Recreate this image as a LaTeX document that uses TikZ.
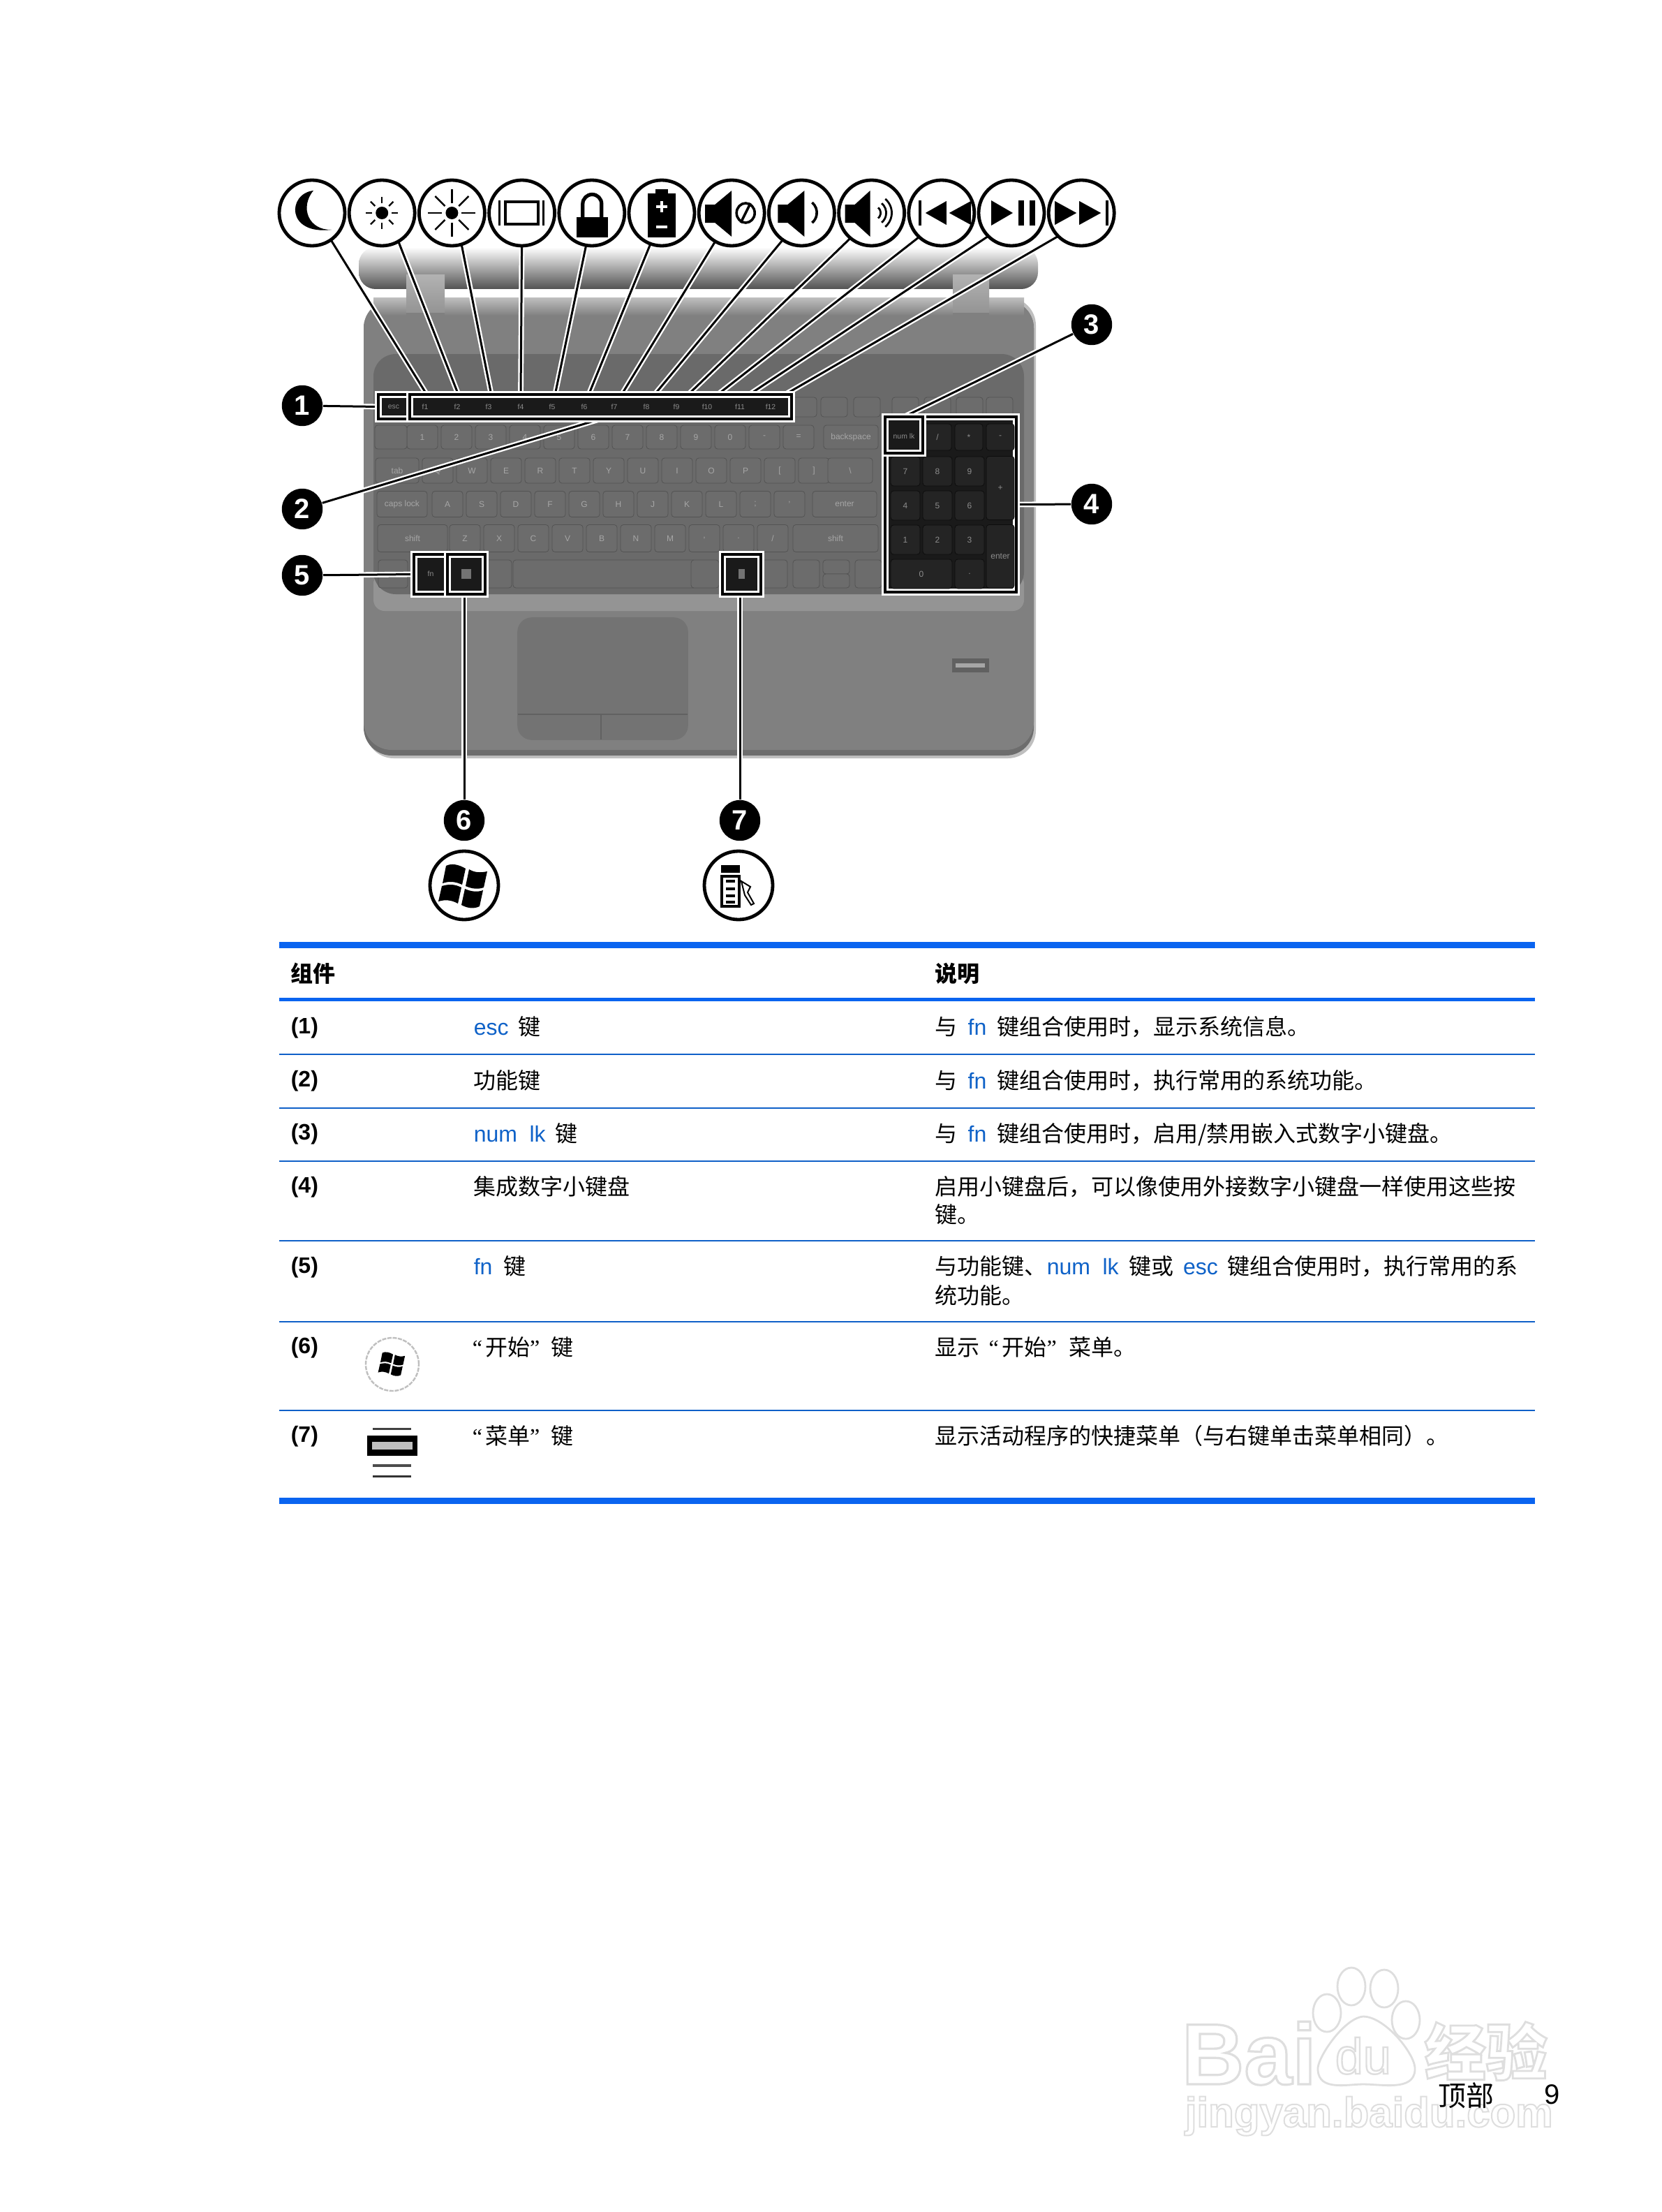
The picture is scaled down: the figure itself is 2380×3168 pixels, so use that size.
\documentclass[tikz,border=0pt]{standalone}
\usepackage{fontspec}
\usepackage{xcolor}
\usetikzlibrary{positioning}
\setmainfont{Liberation Sans}
\newfontfamily\cjk{Noto Sans CJK SC}
\newfontfamily\quotefont{Liberation Serif}
\definecolor{rulethick}{HTML}{0A64F0}
\definecolor{rulethin}{HTML}{0F60C8}
\definecolor{linkblue}{HTML}{0F62C8}
\definecolor{wellgray}{HTML}{6A6A6A}
\definecolor{keygray}{HTML}{6C6C6C}
\definecolor{bodygray}{HTML}{808080}
\definecolor{padgray}{HTML}{737373}
\definecolor{litkey}{HTML}{1A1A1A}
\newcommand{\kw}[1]{\textcolor{linkblue}{#1}}
\newcommand{\openq}{{\quotefont “}}
\newcommand{\closeq}{{\quotefont ”}}
\newcommand{\outlined}[2]{\special{pdf:code 2 Tr #1 w 0.87 0.87 0.87 RG}#2\special{pdf:code 0 Tr}}
\pgfdeclarelayer{boxes}
\pgfsetlayers{main,boxes}
\tikzset{
    sized/.style 2 args={minimum width=#1*0.25pt, minimum height=#2*0.25pt},
    iconring/.style={circle, draw=black, fill=white, line width=1.2pt, minimum size=23.5pt, inner sep=0pt, outer sep=0pt},
    callout/.style={circle, fill=black, text=white, minimum size=14.6pt, inner sep=0pt, font=\bfseries\fontsize{10}{10}\selectfont},
    leader/.style={draw=white, double=black, double distance=0.75pt, line width=0.6pt},
    hlbox/.style={rectangle, draw=white, double=black, double distance=0.85pt, line width=0.75pt, fill=litkey, inner sep=0pt, outer sep=0pt},
    keycap/.style={rectangle, rounded corners=1pt, draw=black!22!wellgray, fill=keygray, text=black!35!white, inner sep=0pt, line width=0.2pt, font=\fontsize{3}{3}\selectfont},
    padkey/.style={keycap, draw=black!95!white, fill=black!86!white, text=black!45!white},
    fnlabel/.style={text=black!45!white, inner sep=0pt, font=\fontsize{2.6}{3}\selectfont},
    cell/.style={anchor=base west, inner sep=0pt, font=\cjk\fontsize{8}{8}\selectfont},
    numcell/.style={anchor=base west, inner sep=0pt, font=\bfseries\fontsize{8}{8}\selectfont},
    headcell/.style={anchor=base west, inner sep=0pt, font=\cjk\bfseries\fontsize{8}{8}\selectfont},
    pawline/.style={draw=black!13!white, fill=white, line width=0.7pt},
    winlogo/.pic={
        \fill[black] (-26,-30) .. controls (-18,-34) and (-8,-32) .. (2,-26) -- (-3,-3) .. controls (-14,-8) and (-22,-8) .. (-31,-5) -- cycle;
        \fill[black] (7,-25) .. controls (15,-20) and (24,-20) .. (33,-22) -- (28,1) .. controls (20,4) and (11,3) .. (2,-1) -- cycle;
        \fill[black] (-32,-1) .. controls (-22,-4) and (-14,-4) .. (-4,1) -- (-9,24) .. controls (-18,19) and (-27,18) .. (-37,21) -- cycle;
        \fill[black] (1,3) .. controls (10,7) and (19,8) .. (27,5) -- (22,28) .. controls (14,32) and (5,31) .. (-4,26) -- cycle;
    }
}
\begin{document}
\begin{tikzpicture}[x=0.25pt, y=-0.25pt]
    \useasboundingbox (0,0) rectangle (2380,3168);
    \fill[white] (0,0) rectangle (2380,3168);

    \draw[pawline] (1901,2883) ellipse (20 and 27);
    \draw[pawline] (1936,2845) ellipse (20 and 27);
    \draw[pawline] (1983,2848) ellipse (20 and 27);
    \draw[pawline] (2014,2893) ellipse (20 and 27);
    \draw[pawline] (1953,2888) .. controls (1925,2890) and (1885,2950) .. (1888,2965) .. controls (1890,2995) and (1930,2985) .. (1953,2985) .. controls (1980,2985) and (2025,2995) .. (2027,2965) .. controls (2030,2945) and (1985,2888) .. (1953,2888) -- cycle;
    \node[anchor=base west, inner sep=0pt, text=white, font=\bfseries\fontsize{31}{31}\selectfont] (markbai) at (1692,2985) {\outlined{0.8}{Bai}};
    \node[anchor=base west, inner sep=0pt, text=white, font=\fontsize{18}{18}\selectfont] (markdu) at (1912,2970) {\outlined{0.6}{du}};
    \node[anchor=base west, inner sep=0pt, text=white, font=\cjk\bfseries\fontsize{22}{22}\selectfont] (markjy) at (2040,2972) {\outlined{0.7}{经验}};
    \node[anchor=base west, inner sep=0pt, text=white, font=\bfseries\fontsize{15}{15}\selectfont] (markurl) at (1697,3046) {\outlined{0.5}{jingyan.baidu.com}};

    \shade[top color=white, bottom color=black!68!white, rounded corners=6pt] (514,354) rectangle (1487,414);
    \fill[white] (505,414) rectangle (1495,426);
    \draw[rounded corners=10pt, fill=black!25!white, draw=none] (524,426) rectangle (1484,1086);
    \fill[bodygray!85!black, rounded corners=10pt] (521,430) rectangle (1481,1082);
    \fill[bodygray, rounded corners=10pt] (521,430) rectangle (1481,1074);
    \shade[top color=black!25!white, bottom color=bodygray] (535,426) rectangle (1467,452);
    \fill[black!42!white, rounded corners=4pt] (535,820) rectangle (1467,875);
    \fill[wellgray, rounded corners=8pt] (535,507) rectangle (1467,851);
    \shade[top color=black!30!white, bottom color=black!42!white] (582,393) rectangle (637,448);
    \shade[top color=black!30!white, bottom color=black!42!white] (1365,393) rectangle (1417,448);
    \fill[black!50!white] (582,448) rectangle (637,458);
    \fill[black!50!white] (1365,448) rectangle (1417,458);
    \fill[padgray, draw=bodygray!90!black, rounded corners=5pt] (742,885) rectangle (985,1059);
    \draw[black!62!white, line width=0.5pt] (742,1023) -- (985,1023);
    \draw[black!62!white, line width=0.7pt] (861,1023) -- (861,1059);
    \node[rectangle, fill=black!62!white, sized={53}{20}, inner sep=0pt] (fingerprint) at (1390,953) {};
    \node[rectangle, fill=black!35!white, sized={42}{6}, inner sep=0pt] (fingerslot) at (1390,953) {};

    \foreach \xk in {1151,1195,1242,1297,1343,1389,1432}
        \node[keycap, sized={38}{28}] (fkey\xk) at (\xk,583) {};
    \foreach \lbl [count=\c] in {1,2,3,4,5,6,7,8,9,0,-,=}
        \node[keycap, sized={44}{34}] (numrow\c) at ({605+(\c-1)*49},626) {\lbl};
    \node[keycap, sized={46}{34}] (tilde) at (560,626) {};
    \node[keycap, sized={78}{34}] (backspace) at (1219,626) {backspace};
    \node[keycap, sized={62}{36}] (tab) at (569,674) {tab};
    \foreach \lbl [count=\c] in {Q,W,E,R,T,Y,U,I,O,P,{[},{]}}
        \node[keycap, sized={44}{36}] (toprow\c) at ({627+(\c-1)*49},674) {\lbl};
    \node[keycap, sized={64}{36}] (backslash) at (1218,674) {\textbackslash};
    \node[keycap, sized={72}{37}] (capslock) at (576,722) {caps lock};
    \foreach \lbl [count=\c] in {A,S,D,F,G,H,J,K,L,;,'}
        \node[keycap, sized={44}{37}] (homerow\c) at ({641+(\c-1)*49},722) {\lbl};
    \node[keycap, sized={92}{37}] (enterkey) at (1210,722) {enter};
    \node[keycap, sized={100}{39}] (lshift) at (591,771) {shift};
    \foreach \lbl [count=\c] in {Z,X,C,V,B,N,M,{,},.,/}
        \node[keycap, sized={44}{39}] (lowrow\c) at ({666+(\c-1)*49},771) {\lbl};
    \node[keycap, sized={122}{39}] (rshift) at (1197,771) {shift};
    \node[keycap, sized={42}{40}] (lctrl) at (563,822) {};
    \node[keycap, sized={42}{40}] (lalt) at (712,822) {};
    \node[keycap, sized={262}{40}] (spacebar) at (866,822) {};
    \node[keycap, sized={40}{40}] (ralt) at (1010,822) {};
    \node[keycap, sized={38}{40}] (rctrl) at (1109,822) {};
    \node[keycap, sized={38}{40}] (leftkey) at (1155,822) {};
    \node[keycap, sized={38}{20}] (upkey) at (1198,812) {};
    \node[keycap, sized={38}{20}] (downkey) at (1198,832) {};
    \node[keycap, sized={38}{40}] (rightkey) at (1244,822) {};

    \begin{pgfonlayer}{boxes}
        \foreach \i in {1,...,12}
            \node[iconring] (icon\i) at ({447+(\i-1)*100.2},305) {};

        \node[hlbox, sized={45}{35}] (escbox) at (564.5,582.5) {};
        \node[hlbox, sized={547}{35}] (fbar) at (860.5,582.5) {};
        \node[fnlabel] (esclabel) at (564,583) {esc};
        \foreach \xk [count=\c] in {609,655,700,746,791,837,880,926,969,1013,1060,1104}
            \node[fnlabel] (flabel\c) at (\xk,583) {f\c};

        \node[hlbox, sized={188}{251}] (numpad) at (1362,722.5) {};
        \node[padkey, sized={40}{38}] (padslash) at (1343,626) {/};
        \node[padkey, sized={40}{38}] (padstar) at (1388,626) {*};
        \node[padkey, sized={40}{38}] (padminus) at (1433,626) {-};
        \foreach \lbl [count=\c] in {7,8,9}
            \node[padkey, sized={42}{42}] (padtop\c) at ({1297+(\c-1)*46},675) {\lbl};
        \foreach \lbl [count=\c] in {4,5,6}
            \node[padkey, sized={42}{42}] (padmid\c) at ({1297+(\c-1)*46},724) {\lbl};
        \foreach \lbl [count=\c] in {1,2,3}
            \node[padkey, sized={42}{42}] (padlow\c) at ({1297+(\c-1)*46},773) {\lbl};
        \node[padkey, sized={40}{91}] (padplus) at (1433,699) {+};
        \node[padkey, sized={40}{91}] (padenter) at (1433,797) {enter};
        \node[padkey, sized={88}{42}] (padzero) at (1320,822) {0};
        \node[padkey, sized={42}{42}] (paddot) at (1389,822) {.};
        \node[hlbox, sized={54}{52}] (numlock) at (1295,623) {};
        \node[fnlabel] (numlocklabel) at (1295,625) {num lk};

        \node[hlbox, sized={48}{57}] (fnbox) at (617,822.5) {};
        \node[hlbox, sized={54}{57}] (winbox) at (668,822.5) {};
        \node[hlbox, sized={55}{57}] (menubox) at (1062.5,822.5) {};
        \node[fnlabel] (fnlabelkey) at (617,822) {fn};
        \fill[black!55!white] (661,815) rectangle (675,829);
        \fill[black!55!white] (1058,815) rectangle (1067,829);

        \node[callout] (call1) at (433,581) {1};
        \node[callout] (call2) at (433,729) {2};
        \node[callout] (call3) at (1564,465) {3};
        \node[callout] (call4) at (1564,722) {4};
        \node[callout] (call5) at (433,824) {5};
        \node[callout] (call6) at (665,1175) {6};
        \node[callout] (call7) at (1060,1175) {7};

        \node[iconring, minimum size=24.5pt] (winicon) at (665,1268) {};
        \node[iconring, minimum size=24.5pt] (menuicon) at (1058,1268) {};
        \pic at (665,1270) {winlogo};
        \begin{scope}[shift={(menuicon.center)}]
            \fill[black] (-25,-29) rectangle (2,-18);
            \draw[black, fill=white, line width=0.8pt] (-24,-13) rectangle (1,30);
            \foreach \yl in {-8,3,13,22}
                \fill[black] (-18,\yl) rectangle (-5,\yl+4);
            \draw[black, fill=white, line width=0.5pt] (4,-6) -- (9,14) -- (18,28) -- (22,26) -- (13,10) -- (17,2) -- cycle;
        \end{scope}

        \begin{scope}[shift={(icon1.center)}]
            \fill[black] (2,-32) .. controls (-35,-28) and (-38,32) .. (28,24) .. controls (-5,25) and (-18,-8) .. (2,-32) -- cycle;
        \end{scope}
        \begin{scope}[shift={(icon2.center)}]
            \fill[black] (0,0) circle (9);
            \foreach \a in {0,45,...,315}
                \draw[black, line width=0.6pt] (\a:14) -- (\a:23);
        \end{scope}
        \begin{scope}[shift={(icon3.center)}]
            \fill[black] (0,0) circle (9);
            \foreach \a in {0,45,...,315}
                \draw[black, line width=0.6pt] (\a:14) -- (\a:34);
        \end{scope}
        \begin{scope}[shift={(icon4.center)}]
            \draw[black, line width=1pt] (-24,-16) rectangle (23,16);
            \draw[black, line width=0.9pt] (-32,-18) -- (-32,18);
            \draw[black, line width=0.9pt] (31,-18) -- (31,18);
        \end{scope}
        \begin{scope}[shift={(icon5.center)}]
            \fill[black] (-22,6) rectangle (23,35);
            \draw[black, line width=1.3pt] (-13,8) -- (-13,-13) arc[start angle=180, end angle=360, radius=13.5] -- (14,8);
        \end{scope}
        \begin{scope}[shift={(icon6.center)}]
            \fill[black] (-20,-28) rectangle (20,35);
            \fill[black] (-9,-34) rectangle (9,-26);
            \draw[white, line width=0.9pt] (-8,-9) -- (8,-9) (0,-17) -- (0,-1);
            \draw[white, line width=0.9pt] (-8,20) -- (8,20);
        \end{scope}
        \begin{scope}[shift={(icon7.center)}]
            \fill[black] (-38,-12) -- (-24,-12) -- (0,-32) -- (0,34) -- (-24,14) -- (-38,14) -- cycle;
            \draw[black, line width=0.9pt] (20,0) ellipse (13 and 14);
            \draw[black, line width=0.9pt] (13,14) -- (27,-14);
        \end{scope}
        \begin{scope}[shift={(icon8.center)}]
            \fill[black] (-34,-12) -- (-20,-12) -- (4,-32) -- (4,34) -- (-20,14) -- (-34,14) -- cycle;
            \draw[black, line width=0.9pt] (15,-15) arc[start angle=-50, end angle=50, radius=19];
        \end{scope}
        \begin{scope}[shift={(icon9.center)}]
            \fill[black] (-38,-12) -- (-24,-12) -- (-2,-32) -- (-2,34) -- (-24,14) -- (-38,14) -- cycle;
            \foreach \r in {10,18,26}
                \draw[black, line width=0.7pt] ({\r*0.64+3},{-\r*0.77}) arc[start angle=-50, end angle=50, radius=\r];
        \end{scope}
        \begin{scope}[shift={(icon10.center)}]
            \fill[black] (-33,-18) rectangle (-29,18);
            \fill[black] (7,-17) -- (7,17) -- (-23,0) -- cycle;
            \fill[black] (42,-17) -- (42,17) -- (11,0) -- cycle;
        \end{scope}
        \begin{scope}[shift={(icon11.center)}]
            \fill[black] (-29,-18) -- (2,0) -- (-29,18) -- cycle;
            \fill[black] (10,-18) rectangle (18,18);
            \fill[black] (26,-18) rectangle (34,18);
        \end{scope}
        \begin{scope}[shift={(icon12.center)}]
            \fill[black] (-38,-17) -- (-7,0) -- (-38,17) -- cycle;
            \fill[black] (-3,-17) -- (28,0) -- (-3,17) -- cycle;
            \fill[black] (35,-18) rectangle (39,18);
        \end{scope}
    \end{pgfonlayer}

    \foreach \i/\a/\xe in {1/-55/612, 2/-60/657, 3/-73/704, 4/-90/746, 5/-100/795, 6/-110/843, 7/-120/890, 8/-125/937, 9/-130/985, 10/-133/1027, 11/-135/1072, 12/-135/1123} {
        \coordinate (fkey top\i) at (\xe,566);
        \draw[leader] (icon\i.\a) -- (fkey top\i);
    }
    \draw[leader] (call1) -- (escbox.west);
    \draw[leader] (call2) -- (fbar.south);
    \draw[leader] (call3) -- (numlock.north);
    \draw[leader] (call4) -- (numpad.east);
    \draw[leader] (call5) -- (fnbox.west);
    \draw[leader] (call6) -- (call6 |- winbox.south);
    \draw[leader] (call7) -- (call7 |- menubox.south);

    \fill[rulethick] (400,1349) rectangle (2199,1358);
    \fill[rulethick] (400,1429) rectangle (2199,1434);
    \foreach \yr in {1510,1587,1663,1777,1893,2020}
        \fill[rulethin] (400,\yr-1) rectangle (2199,\yr+1);
    \fill[rulethick] (400,2145) rectangle (2199,2154);

    \node[headcell] (headpart) at (416,1406) {组件};
    \node[headcell] (headdesc) at (1339,1406) {说明};
    \node[numcell] (num1) at (416,1480) {(1)};
    \node[numcell] (num2) at (416,1556) {(2)};
    \node[numcell] (num3) at (416,1632) {(3)};
    \node[numcell] (num4) at (416,1708) {(4)};
    \node[numcell] (num5) at (416,1823) {(5)};
    \node[numcell] (num6) at (416,1938) {(6)};
    \node[numcell] (num7) at (416,2065) {(7)};

    \node[cell] (part1) at (678,1482) {\kw{\rmfamily esc}\hspace{3.5pt}键};
    \node[cell] (part2) at (678,1559) {功能键};
    \node[cell] (part3) at (678,1635) {\kw{\rmfamily num\hspace{4.4pt}lk}\hspace{3.5pt}键};
    \node[cell] (part4) at (678,1711) {集成数字小键盘};
    \node[cell] (part5) at (678,1825) {\kw{\rmfamily fn}\hspace{4pt}键};
    \node[cell] (part6) at (676,1941) {\openq\hspace{1pt}开始\closeq\hspace{4pt}键};
    \node[cell] (part7) at (676,2068) {\openq\hspace{1pt}菜单\closeq\hspace{4pt}键};

    \node[cell] (desc1) at (1339,1482) {与\hspace{3.7pt}\kw{\rmfamily fn}\hspace{3.7pt}键组合使用时，显示系统信息。};
    \node[cell] (desc2) at (1339,1559) {与\hspace{3.7pt}\kw{\rmfamily fn}\hspace{3.7pt}键组合使用时，执行常用的系统功能。};
    \node[cell] (desc3) at (1339,1635) {与\hspace{3.7pt}\kw{\rmfamily fn}\hspace{3.7pt}键组合使用时，启用/禁用嵌入式数字小键盘。};
    \node[cell] (desc4a) at (1339,1711) {启用小键盘后，可以像使用外接数字小键盘一样使用这些按};
    \node[cell] (desc4b) at (1339,1751) {键。};
    \node[cell] (desc5a) at (1339,1825) {与功能键、\kw{\rmfamily num\hspace{4.4pt}lk}\hspace{3.7pt}键或\hspace{3.4pt}\kw{\rmfamily esc}\hspace{3.4pt}键组合使用时，执行常用的系};
    \node[cell] (desc5b) at (1339,1867) {统功能。};
    \node[cell] (desc6) at (1339,1941) {显示\hspace{3.2pt}\openq\hspace{1.2pt}开始\closeq\hspace{4.5pt}菜单。};
    \node[cell] (desc7) at (1339,2068) {显示活动程序的快捷菜单（与右键单击菜单相同）。};

    \node[circle, draw=black!25!white, fill=white, line width=0.6pt, dash pattern=on 1.5pt off 0.4pt, minimum size=19pt, inner sep=0pt] (winsmall) at (562,1954) {};
    \pic[scale=0.55] at (562,1954) {winlogo};
    \fill[black!75!white] (534,2045) rectangle (589,2048);
    \fill[black] (526,2056) rectangle (598,2085);
    \fill[black!25!white] (533,2065) rectangle (591,2076);
    \fill[black!70!white] (534,2097) rectangle (589,2101);
    \fill[black!80!white] (534,2113) rectangle (589,2116);

    \node[anchor=base west, inner sep=0pt, font=\cjk\fontsize{10}{10}\selectfont] (pagetitle) at (2060,3016) {顶部};
    \node[anchor=base west, inner sep=0pt, font=\fontsize{10}{10}\selectfont] (pagenumber) at (2212,3013) {9};
\end{tikzpicture}
\end{document}
